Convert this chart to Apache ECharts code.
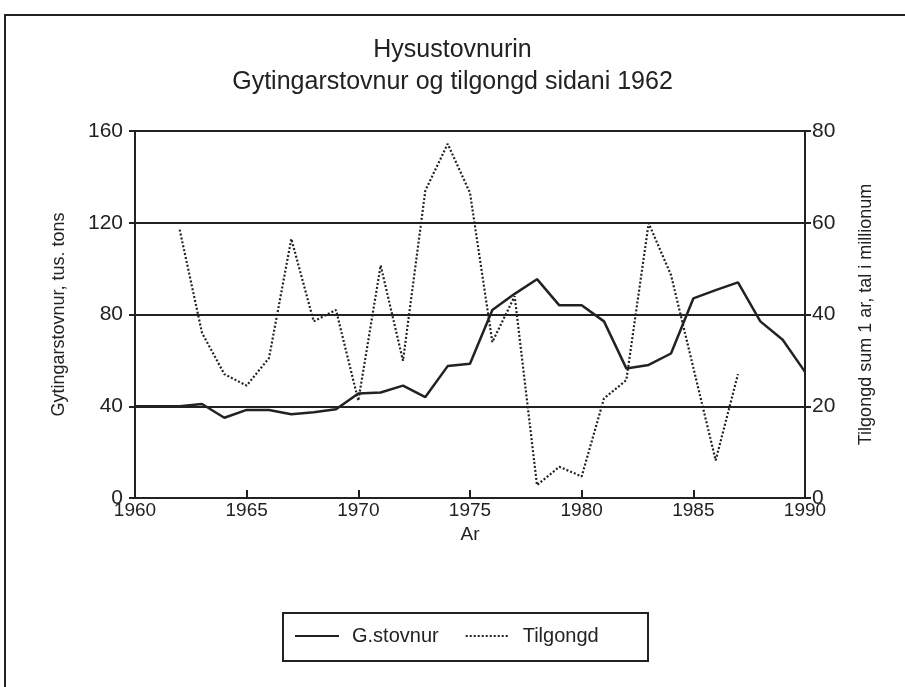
<!DOCTYPE html>
<html>
<head>
<meta charset="UTF-8">
<title>index.html</title>
<style>
body { margin: 0; background: #fff; }
#main { width: 905px; height: 687px; }
</style>
</head>
<body>
<div id="main"></div>
<script src="https://cdn.jsdelivr.net/npm/echarts@6/dist/echarts.min.js"></script>
<script>
  var years = [1960, 1961, 1962, 1963, 1964, 1965, 1966, 1967, 1968, 1969, 1970, 1971, 1972, 1973, 1974, 1975,
    1976, 1977, 1978, 1979, 1980, 1981, 1982, 1983, 1984, 1985, 1986, 1987, 1988, 1989, 1990];
  // gytingarstovnur, tus. tons
  var stovnur = [40, 40, 40, 41, 35, 38.4, 38.4, 36.5, 37.4, 38.7, 45.6, 46, 49, 44, 57.5, 58.5,
    82, 89, 95.4, 84, 84, 77, 56.5, 58, 63, 87, 90.6, 94, 77, 69, 55];
  // tilgongd, tal i millionum (frá 1962)
  var tilYears = [1962, 1963, 1964, 1965, 1966, 1967, 1968, 1969, 1970, 1971, 1972, 1973, 1974, 1975,
    1976, 1977, 1978, 1979, 1980, 1981, 1982, 1983, 1984, 1985, 1986, 1987];
  var tilgongd = [58.5, 36, 27, 24.5, 30.5, 56.5, 38.5, 41, 21.2, 50.7, 29.9, 67, 77.2, 66.5,
    34, 44, 2.8, 6.8, 4.7, 21.7, 25.7, 59.9, 48.6, 28.4, 8.2, 27];

  function pairs(xs, ys) {
    var out = [];
    for (var i = 0; i < xs.length; i++) out.push([xs[i], ys[i]]);
    return out;
  }

  var ink = '#222';
  var font = 'Liberation Sans, Arial, sans-serif';
  var myChart = echarts.init(document.getElementById('main'));
  var option = {
    backgroundColor: '#fff',
    animation: false,
    title: {
      text: 'Hysustovnurin\nGytingarstovnur og tilgongd sidani 1962',
      left: 'center',
      top: 29,
      textStyle: { color: ink, fontSize: 25, fontWeight: 'normal', fontFamily: font, lineHeight: 32 }
    },
    graphic: [{
      type: 'rect',
      shape: { x: 5, y: 15, width: 920, height: 700 },
      style: { fill: 'none', stroke: ink, lineWidth: 2 }
    }, {
      // legend frame, drawn to the reference's wider box
      type: 'rect',
      shape: { x: 283, y: 613, width: 365, height: 48 },
      style: { fill: 'none', stroke: ink, lineWidth: 2 }
    }],
    legend: {
      left: 286,
      top: 622,
      padding: [4, 8, 4, 8],
      itemWidth: 44,
      itemGap: 26,
      itemStyle: { opacity: 0 },
      textStyle: { color: ink, fontSize: 20, fontFamily: font, padding: [0, 0, 0, 8] },
      data: ['G.stovnur', 'Tilgongd']
    },
    grid: { left: 135, right: 100, top: 131, bottom: 189 },
    xAxis: {
      type: 'value',
      min: 1960, max: 1990, interval: 5,
      name: 'Ar',
      nameLocation: 'middle',
      nameGap: 24,
      nameTextStyle: { color: ink, fontSize: 19, fontFamily: font },
      axisLine: { lineStyle: { color: ink, width: 2 } },
      axisTick: { inside: true, length: 8, lineStyle: { color: ink, width: 2 } },
      axisLabel: { color: ink, fontSize: 19, fontFamily: font, margin: 3, formatter: function (v) { return String(v); } },
      splitLine: { show: false }
    },
    yAxis: [{
      type: 'value',
      min: 0, max: 160, interval: 40,
      name: 'Gytingarstovnur, tus. tons',
      nameLocation: 'middle',
      nameGap: 67,
      nameTextStyle: { color: ink, fontSize: 18, fontFamily: font },
      axisLine: { show: true, lineStyle: { color: ink, width: 2 } },
      axisTick: { show: true, length: 6, lineStyle: { color: ink, width: 2 } },
      axisLabel: { color: ink, fontSize: 21, fontFamily: font, margin: 12 },
      splitLine: { lineStyle: { color: ink, width: 2 } }
    }, {
      type: 'value',
      min: 0, max: 80, interval: 20,
      name: 'Tilgongd sum 1 ar, tal i millionum',
      nameLocation: 'middle',
      nameGap: 52,
      nameRotate: 90,
      nameTextStyle: { color: ink, fontSize: 18, fontFamily: font },
      axisLine: { show: true, lineStyle: { color: ink, width: 2 } },
      axisTick: { show: true, length: 6, lineStyle: { color: ink, width: 2 } },
      axisLabel: { color: ink, fontSize: 21, fontFamily: font, margin: 7 },
      splitLine: { show: false }
    }],
    series: [{
      name: 'G.stovnur',
      type: 'line',
      yAxisIndex: 0,
      symbol: 'none',
      lineStyle: { color: ink, width: 2.5 },
      itemStyle: { color: ink },
      data: pairs(years, stovnur)
    }, {
      name: 'Tilgongd',
      type: 'line',
      yAxisIndex: 1,
      symbol: 'none',
      lineStyle: { color: ink, width: 2.2, type: [2, 2] },
      itemStyle: { color: ink },
      data: pairs(tilYears, tilgongd)
    }]
  };
  myChart.setOption(option);
</script>
</body>
</html>
